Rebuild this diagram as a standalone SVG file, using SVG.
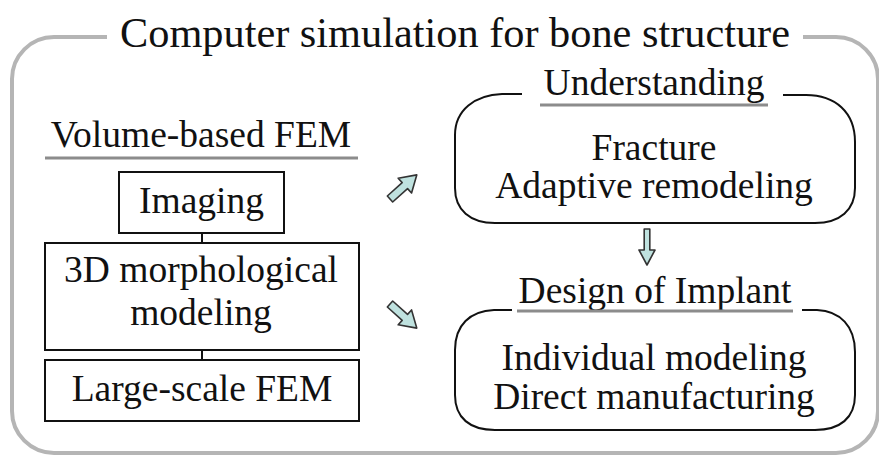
<svg xmlns="http://www.w3.org/2000/svg" width="879" height="455" viewBox="0 0 879 455">
  <style>
    text { font-family: "Liberation Serif", "Times New Roman", serif; fill: #111; }
    .t { font-size: 37.5px; text-anchor: middle; }
    .title { font-size: 42px; text-anchor: middle; }
    .frame { fill: none; stroke: #b5b5b5; stroke-width: 4; }
    .box { fill: #fff; stroke: #111; stroke-width: 2; }
    .rbox { fill: none; stroke: #111; stroke-width: 2; }
    .uline { stroke: #8c8c8c; stroke-width: 3; }
    .link { stroke: #111; stroke-width: 2; }
    .blk { fill: #bfe2df; stroke: #333; stroke-width: 1.6; stroke-linejoin: round; }
  </style>
  <defs>
    <!-- block arrow pointing along +x -->
    <path id="blockArrow" d="M0,-4 L20,-4 L20,-10 L36,0 L20,10 L20,4 L0,4 Z"/>
    <path id="thinArrow" d="M0,-2.8 L21,-2.8 L21,-8 L36,0 L21,8 L21,2.8 L0,2.8 Z"/>
  </defs>

  <!-- outer frame with title breaking the top edge -->
  <g id="frame">
    <path class="frame" d="M107,37 L54,37 A42,42 0 0 0 12,79 L12,411 A42,42 0 0 0 54,453 L836,453 A42,42 0 0 0 878,411 L878,79 A42,42 0 0 0 836,37 L803,37"/>
    <text class="title" x="455" y="47" textLength="670" lengthAdjust="spacingAndGlyphs">Computer simulation for bone structure</text>
  </g>

  <!-- left column: volume-based FEM pipeline -->
  <g id="volume-fem">
    <text class="t" x="201" y="147">Volume-based FEM</text>
    <line class="uline" x1="45" y1="158" x2="358" y2="158"/>
  </g>
  <g id="imaging">
    <rect class="box" x="119" y="172" width="165" height="61"/>
    <text class="t" x="201.5" y="213">Imaging</text>
  </g>
  <g id="morph-modeling">
    <rect class="box" x="45" y="243" width="314" height="107"/>
    <text class="t" x="201" y="282">3D morphological</text>
    <text class="t" x="201" y="325">modeling</text>
  </g>
  <g id="large-fem">
    <rect class="box" x="45" y="360" width="314" height="61"/>
    <text class="t" x="202" y="401">Large-scale FEM</text>
  </g>

  <!-- right column: understanding -->
  <g id="understanding">
    <path class="rbox" d="M522,94 L502,94 C475,95 455,110 455,135 L455,188 C455,210 470,223 495,223 L815,223 C840,223 855,210 855,188 L855,142 C855,112 835,95 806,95 L783,95"/>
    <text class="t" x="654" y="95">Understanding</text>
    <line class="uline" x1="540" y1="105" x2="768" y2="105"/>
    <text class="t" x="654" y="160">Fracture</text>
    <text class="t" x="654" y="198">Adaptive remodeling</text>
  </g>

  <!-- right column: design of implant -->
  <g id="design-implant">
    <path class="rbox" d="M512,310 L494,310 C470,311 455,325 455,350 L455,395 C455,418 470,430 495,430 L815,430 C840,430 855,418 855,395 L855,352 C855,326 840,311 817,310 L802,310"/>
    <text class="t" x="655" y="303">Design of Implant</text>
    <line class="uline" x1="517" y1="311" x2="793" y2="311"/>
    <text class="t" x="654" y="370">Individual modeling</text>
    <text class="t" x="654" y="409">Direct manufacturing</text>
  </g>

  <!-- connectors -->
  <g id="connectors">
    <line class="link" x1="202" y1="233" x2="202" y2="243"/>
    <line class="link" x1="202" y1="350" x2="202" y2="360"/>
    <use href="#blockArrow" class="blk" transform="translate(390,199) rotate(-42)"/>
    <use href="#blockArrow" class="blk" transform="translate(390,304) rotate(42)"/>
    <use href="#thinArrow" class="blk" transform="translate(647,229) rotate(90)"/>
  </g>
</svg>
